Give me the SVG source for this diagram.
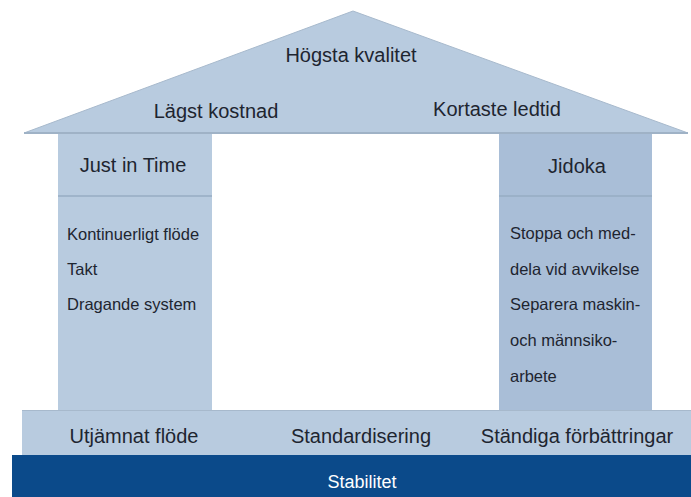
<svg xmlns="http://www.w3.org/2000/svg" width="691" height="497" viewBox="0 0 691 497">
<style>
text{font-family:"Liberation Sans",Arial,sans-serif;fill:#1e2530}
.t20{font-size:20px}
.t16{font-size:16.5px}
.c{text-anchor:middle}
.lt{fill:#b8cbdf}
.dk{fill:#a9bed7}
.div{stroke:#97acc3;stroke-width:1.5}
</style>
<rect width="691" height="497" fill="#ffffff"/>
<g id="roof">
<polygon points="353,11 24,133 688,133" class="lt" stroke="#a7b9cc" stroke-width="1"/>
<line x1="24" y1="133" x2="688" y2="133" stroke="#9fb2c6" stroke-width="2"/>
<text x="351" y="62" class="t20 c">Högsta kvalitet</text>
<text x="216" y="118" class="t20 c">Lägst kostnad</text>
<text x="497" y="116" class="t20 c">Kortaste ledtid</text>
</g>
<g id="pillar-jit">
<rect x="58" y="134" width="154" height="276" class="lt"/>
<line x1="58" y1="196" x2="212" y2="196" class="div"/>
<text x="133" y="172" class="t20 c">Just in Time</text>
<text x="67" y="240" class="t16">Kontinuerligt flöde</text>
<text x="67" y="275" class="t16">Takt</text>
<text x="67" y="310" class="t16">Dragande system</text>
</g>
<g id="pillar-jidoka">
<rect x="499" y="134" width="153" height="276" class="dk"/>
<line x1="499" y1="196" x2="652" y2="196" class="div"/>
<text x="577" y="173" class="t20 c">Jidoka</text>
<text x="510" y="239" class="t16">Stoppa och med-</text>
<text x="510" y="275" class="t16">dela vid avvikelse</text>
<text x="510" y="310" class="t16">Separera maskin-</text>
<text x="510" y="346" class="t16">och männsiko-</text>
<text x="510" y="382" class="t16">arbete</text>
</g>
<g id="foundation">
<rect x="22" y="410" width="669" height="45" class="lt"/>
<line x1="22" y1="410.5" x2="691" y2="410.5" stroke="#a7b9cc" stroke-width="1"/>
<text x="134" y="443" class="t20 c">Utjämnat flöde</text>
<text x="361" y="443" class="t20 c">Standardisering</text>
<text x="577" y="443" class="t20 c">Ständiga förbättringar</text>
</g>
<g id="stabilitet">
<rect x="12" y="455" width="679" height="42" fill="#0b4a8a"/>
<text x="362" y="488" class="t16 c" style="fill:#ffffff;font-size:18px">Stabilitet</text>
</g>
<g id="connectors"/>
</svg>
